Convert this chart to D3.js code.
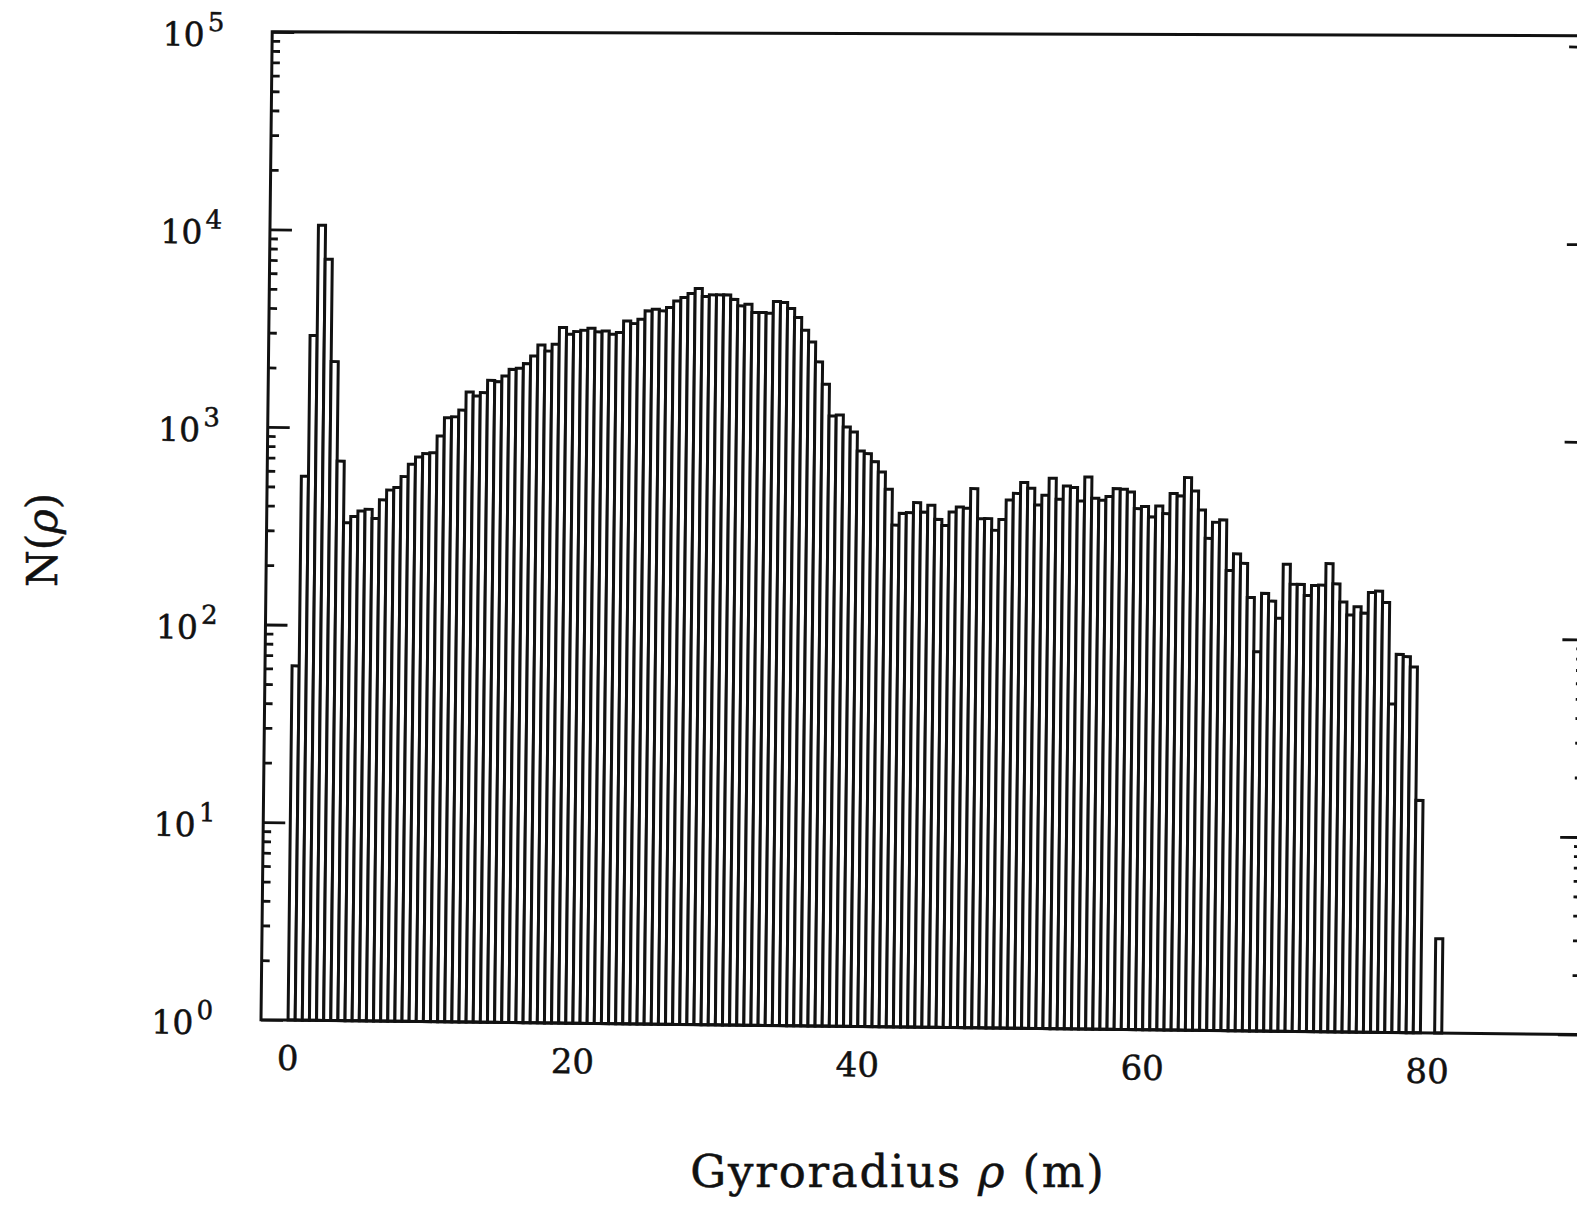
<!DOCTYPE html>
<html>
<head>
<meta charset="utf-8">
<script src="https://cdn.jsdelivr.net/npm/d3@7"></script>
<style>
  html, body { margin: 0; padding: 0; background: #fff; }
  svg { display: block; }
  text { font-family: "DejaVu Serif", "Liberation Serif", serif; fill: #111; stroke: #111; stroke-width: 0.5px; }
</style>
</head>
<body>
<svg id="chart" width="1577" height="1209"></svg>
<script>
// Gyroradius histogram: counts per 0.5 m bin, first bin starts at 0 m
const binWidth = 0.5;
const binOrigin = 0;
const counts = [
  62, 566, 2920, 10560, 7110, 2160, 678, 331, 356, 380,
  388, 349, 434, 487, 502, 571, 660, 719, 748, 757,
  920, 1140, 1153, 1248, 1542, 1473, 1535, 1772, 1747, 1867,
  2019, 2047, 2163, 2366, 2692, 2512, 2721, 3311, 3064, 3164,
  3214, 3296, 3162, 3199, 3083, 3147, 3606, 3500, 3684, 4064,
  4150, 4074, 4238, 4581, 4773, 5008, 5310, 4845, 4942, 4946,
  4948, 4700, 4362, 4453, 4047, 4050, 4018, 4613, 4563, 4260,
  3841, 3313, 2893, 2295, 1770, 1224, 1240, 1079, 1019, 817,
  793, 723, 641, 525, 346, 397, 401, 451, 404, 438,
  372, 347, 406, 431, 425, 535, 377, 378, 330, 375,
  471, 509, 578, 541, 446, 500, 610, 478, 558, 549,
  470, 622, 486, 475, 497, 545, 542, 525, 433, 444,
  394, 448, 410, 519, 505, 626, 536, 430, 309, 373,
  384, 213, 259, 232, 156, 83, 164, 150, 123, 231,
  183, 183, 161, 181, 182, 234, 185, 150, 129, 142,
  132, 168, 171, 150, 46, 82, 80, 71, 15, 0,
  0, 3
];

const xDomain = [-1.9, 90.7];
const yDomain = [1, 1e5];
const xTickValues = [0, 20, 40, 60, 80];
const yExponents = [0, 1, 2, 3, 4, 5];
const xTitle = "Gyroradius ";
const xTitleSymbol = "ρ";
const xTitleUnit = " (m)";

// Plot frame (before the slight tilt applied to the whole panel)
const frame = { left: 261, right: 1580, top: 32, bottom: 1020, topRightDrop: -11 };
const tilt = 0.65; // degrees

const svg = d3.select("#chart");

const x = d3.scaleLinear().domain(xDomain).range([frame.left, frame.right]);
const y = d3.scaleLog().domain(yDomain).range([frame.bottom, frame.top]);

const panel = svg.append("g")
  .attr("transform", `rotate(${tilt}, ${x(0)}, ${frame.bottom})`);

// Histogram bars
const bins = counts.map((c, i) => ({
  x0: binOrigin + i * binWidth,
  x1: binOrigin + (i + 1) * binWidth,
  n: c
})).filter(d => d.n > 0);

panel.append("g")
  .selectAll("rect")
  .data(bins)
  .join("rect")
  .attr("x", d => x(d.x0))
  .attr("width", d => x(d.x1) - x(d.x0))
  .attr("y", d => y(d.n))
  .attr("height", d => y(1) - y(d.n))
  .attr("fill", "#fff")
  .attr("stroke", "#111")
  .attr("stroke-width", 3);

// Log-axis tick positions
const majors = yExponents.map(e => Math.pow(10, e));
const minors = [];
yExponents.slice(0, -1).forEach(e => {
  for (let m = 2; m <= 9; m++) minors.push(m * Math.pow(10, e));
});

function styleAxis(g) {
  g.select(".domain").remove();
  g.selectAll(".tick line").attr("stroke", "#111").attr("stroke-width", 2.8);
  g.selectAll(".tick text").remove();
}

// Left axis ticks point inward
panel.append("g")
  .attr("transform", `translate(${frame.left},0)`)
  .call(d3.axisRight(y).tickValues(majors).tickSize(22).tickFormat(""))
  .call(styleAxis);
panel.append("g")
  .attr("transform", `translate(${frame.left},0)`)
  .call(d3.axisRight(y).tickValues(minors).tickSize(8).tickFormat(""))
  .call(styleAxis);

// Right axis ticks point inward
panel.append("g")
  .attr("transform", `translate(${frame.right},0)`)
  .call(d3.axisLeft(y).tickValues(majors).tickSize(22).tickFormat(""))
  .call(styleAxis);
panel.append("g")
  .attr("transform", `translate(${frame.right},0)`)
  .call(d3.axisLeft(y).tickValues(minors).tickSize(8).tickFormat(""))
  .call(styleAxis);

// Frame
const framePath = d3.path();
framePath.moveTo(frame.left, frame.bottom);
framePath.lineTo(frame.left, frame.top);
framePath.lineTo(frame.right, frame.top + frame.topRightDrop);
framePath.lineTo(frame.right, frame.bottom);
framePath.closePath();
panel.append("path")
  .attr("d", framePath.toString())
  .attr("fill", "none")
  .attr("stroke", "#111")
  .attr("stroke-width", 3);

// Y tick labels: 10^k
const yLabels = panel.append("g")
  .selectAll("text")
  .data(yExponents)
  .join("text")
  .attr("x", frame.left - 48)
  .attr("y", e => y(Math.pow(10, e)) + 15)
  .attr("text-anchor", "end")
  .style("font-size", "33px");
yLabels.append("tspan").text("10");
yLabels.append("tspan")
  .attr("dx", 3)
  .attr("dy", -15)
  .style("font-size", "26px")
  .text(e => e);

// X tick labels
panel.append("g")
  .selectAll("text")
  .data(xTickValues)
  .join("text")
  .attr("x", d => x(d))
  .attr("y", frame.bottom + 50)
  .attr("text-anchor", "middle")
  .style("font-size", "34px")
  .text(d => d);

// Axis titles
const xt = svg.append("text")
  .attr("x", 898)
  .attr("y", 1187)
  .attr("text-anchor", "middle")
  .style("font-size", "45px")
  .style("letter-spacing", "1.8px");
xt.append("tspan").text(xTitle);
xt.append("tspan").style("font-style", "italic").text(xTitleSymbol);
xt.append("tspan").text(xTitleUnit);

const yt = svg.append("text")
  .attr("transform", "translate(57,540) rotate(-90)")
  .attr("text-anchor", "middle")
  .style("font-size", "42px");
yt.append("tspan").text("N(");
yt.append("tspan").style("font-style", "italic").text("ρ");
yt.append("tspan").text(")");
</script>
</body>
</html>
